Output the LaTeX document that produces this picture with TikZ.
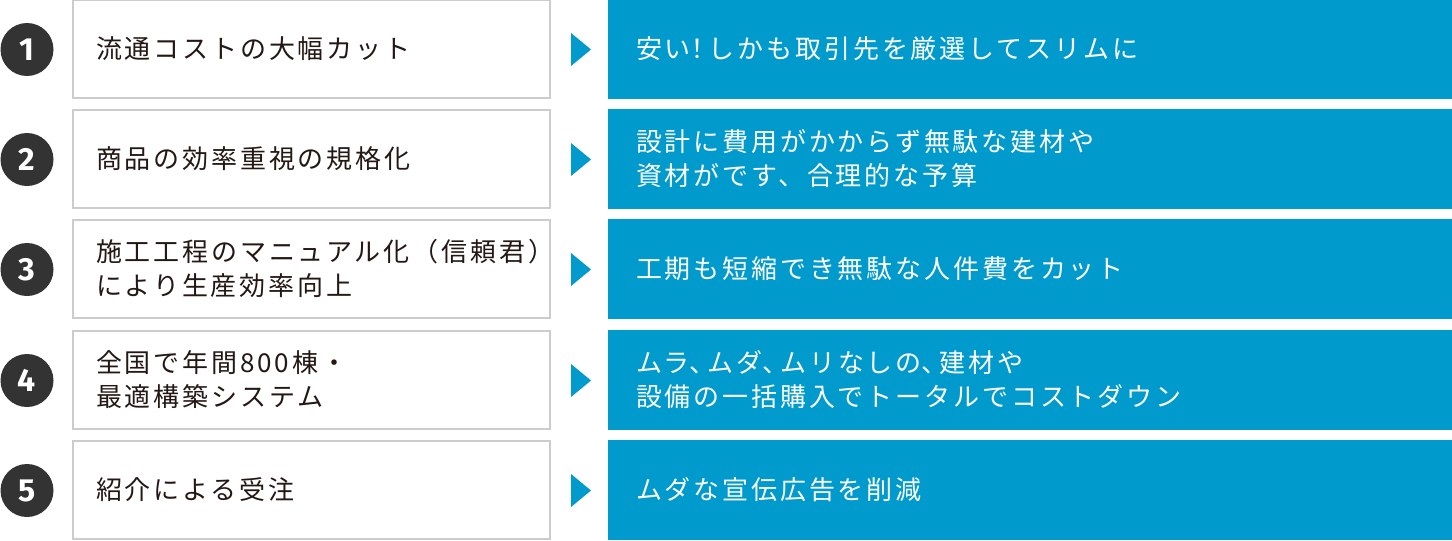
\documentclass[tikz,border=0pt]{standalone}
\usepackage{fontspec}
\setmainfont{Noto Sans CJK JP}[LetterSpace=11]
\newfontfamily\numfont{Fira Sans}
\usetikzlibrary{positioning}
\definecolor{boxblue}{RGB}{0,154,205}
\definecolor{numgray}{RGB}{51,51,51}
\definecolor{linegray}{RGB}{204,204,204}
\definecolor{inkblack}{RGB}{35,24,21}
% narrower punctuation
\newcommand\hw[1]{{\addfontfeature{RawFeature=+halt}#1}\kern5pt}

\begin{document}
\begin{tikzpicture}[x=1pt, y=-1pt,
        num/.style={circle, fill=numgray, minimum size=53pt, inner sep=0pt,
          text=white, font=\numfont\bfseries\fontsize{32}{32}\selectfont},
        reason/.style={draw=linegray, line width=2pt, fill=white,
          minimum width=477pt, minimum height=98pt, inner xsep=23pt,
          text width=431pt, align=left, text=inkblack,
          font=\fontsize{26}{34}\selectfont},
        result/.style={fill=boxblue, minimum width=844pt, minimum height=100pt,
          inner xsep=28pt, text width=788pt, align=left, text=white,
          font=\fontsize{26}{34}\selectfont},
        pointer/.style={fill=boxblue}]
        \useasboundingbox (0,0) rectangle (1452,541);
        % row 1
        \node[num] (n1) at (27,49.5) {1};
        \node[reason] (r1) at (311.5,48.5) {流通コストの大幅カット};
        \node[result] (s1) at (1030,49) {安い\hw{！}しかも取引先を厳選してスリムに};
        \coordinate (p1) at (571,49.5);
        \fill[pointer] (p1) ++(0,-16.5) -- ++(20,16.5) -- ++(-20,16.5) -- cycle;
        % row 2
        \node[num] (n2) at (27,159.5) {2};
        \node[reason] (r2) at (311.5,158.5) {商品の効率重視の規格化};
        \node[result] (s2) at (1030,159) {設計に費用がかからず無駄な建材や\\資材がです、合理的な予算};
        \coordinate (p2) at (571,159.5);
        \fill[pointer] (p2) ++(0,-16.5) -- ++(20,16.5) -- ++(-20,16.5) -- cycle;
        % row 3
        \node[num] (n3) at (27,269.5) {3};
        \node[reason] (r3) at (311.5,268.5) {施工工程のマニュアル化（信頼君）\\により生産効率向上};
        \node[result] (s3) at (1030,269) {工期も短縮でき無駄な人件費をカット};
        \coordinate (p3) at (571,269.5);
        \fill[pointer] (p3) ++(0,-16.5) -- ++(20,16.5) -- ++(-20,16.5) -- cycle;
        % row 4
        \node[num] (n4) at (27,380.5) {4};
        \node[reason] (r4) at (311.5,379.5) {全国で年間800棟・\\最適構築システム};
        \node[result] (s4) at (1030,380) {ムラ\hw{、}ムダ\hw{、}ムリなしの\hw{、}建材や\\設備の一括購入でトータルでコストダウン};
        \coordinate (p4) at (571,380.5);
        \fill[pointer] (p4) ++(0,-16.5) -- ++(20,16.5) -- ++(-20,16.5) -- cycle;
        % row 5
        \node[num] (n5) at (27,490.5) {5};
        \node[reason] (r5) at (311.5,489.5) {紹介による受注};
        \node[result] (s5) at (1030,490) {ムダな宣伝広告を削減};
        \coordinate (p5) at (571,490.5);
        \fill[pointer] (p5) ++(0,-16.5) -- ++(20,16.5) -- ++(-20,16.5) -- cycle;
      \end{tikzpicture}
\end{document}
